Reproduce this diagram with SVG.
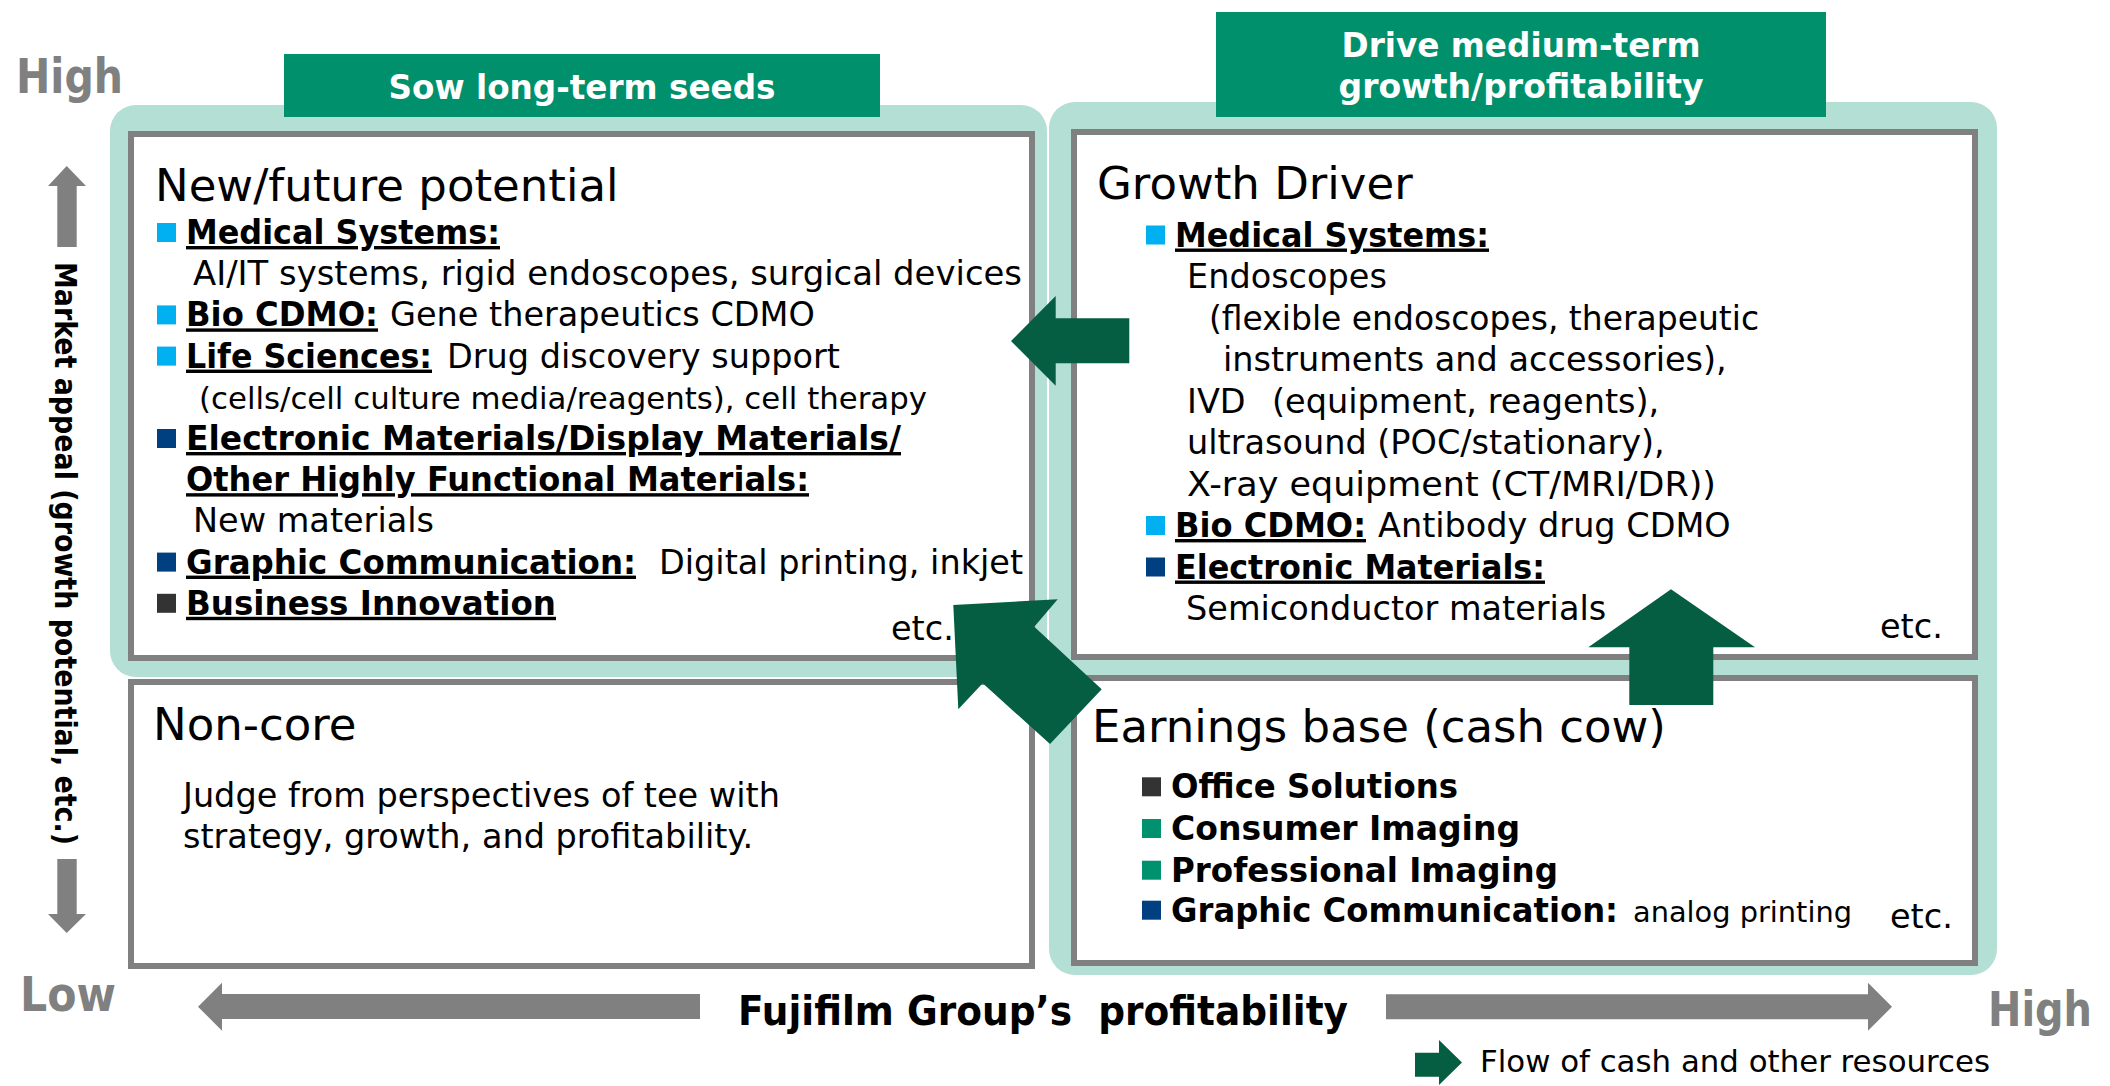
<svg xmlns="http://www.w3.org/2000/svg" width="2110" height="1086" viewBox="0 0 2110 1086">
<style>
text{font-family:"DejaVu Sans",Verdana,sans-serif;fill:#000}
.r{font-size:33.5px}
.t{font-size:45px}
.b{font-size:34px;font-weight:bold}
.u{text-decoration:underline}
.hd{font-size:33px;font-weight:bold;fill:#fff}
.ax{font-weight:bold;fill:#808080;font-size:48px}
.teal{fill:#b3dfd4}
.box{fill:#fff;stroke:#808080;stroke-width:6}
.hdr{fill:#00906c}
.arr{fill:#055e42}
.gar{fill:#808080}
.lb{fill:#00b0f0}.db{fill:#003f80}.dg{fill:#333}.gr{fill:#00916e}
</style>
<rect width="2110" height="1086" fill="#fff"/>
<g id="bg">
<rect class="teal" x="110" y="105" width="937" height="572" rx="26"/>
<rect class="teal" x="1049" y="102" width="948" height="873" rx="26"/>
</g>
<g id="header-sow">
<rect class="hdr" x="284" y="54" width="596" height="63"/>
<text class="hd" x="582" y="99" text-anchor="middle" textLength="387" lengthAdjust="spacingAndGlyphs">Sow long-term seeds</text>
</g>
<g id="header-drive">
<rect class="hdr" x="1216" y="12" width="610" height="105"/>
<text class="hd" x="1521" y="56.5" text-anchor="middle" textLength="359" lengthAdjust="spacingAndGlyphs">Drive medium-term</text>
<text class="hd" x="1521" y="97.6" text-anchor="middle" textLength="365" lengthAdjust="spacingAndGlyphs">growth/profitability</text>
</g>
<g id="box-new-future">
<rect class="box" x="131" y="134" width="901" height="524"/>
<text class="t" x="155" y="201">New/future potential</text>
<rect class="lb" x="157" y="223" width="19" height="19"/>
<text class="b u" x="186" y="244" textLength="314" lengthAdjust="spacingAndGlyphs">Medical Systems:</text>
<text class="r" x="193" y="285.2" textLength="829" lengthAdjust="spacingAndGlyphs">AI/IT systems, rigid endoscopes, surgical devices</text>
<rect class="lb" x="157" y="305.4" width="19" height="19"/>
<text class="b u" x="186" y="326.4" textLength="192" lengthAdjust="spacingAndGlyphs">Bio CDMO:</text>
<text class="r" x="390" y="326.4">Gene therapeutics CDMO</text>
<rect class="lb" x="157" y="346.6" width="19" height="19"/>
<text class="b u" x="186" y="367.6" textLength="246" lengthAdjust="spacingAndGlyphs">Life Sciences:</text>
<text class="r" x="447" y="367.6">Drug discovery support</text>
<text x="199" y="408.8" font-size="31" textLength="728" lengthAdjust="spacingAndGlyphs">(cells/cell culture media/reagents), cell therapy</text>
<rect class="db" x="157" y="429" width="19" height="19"/>
<text class="b u" x="186" y="450" textLength="715" lengthAdjust="spacingAndGlyphs">Electronic Materials/Display Materials/</text>
<text class="b u" x="186" y="491.2" textLength="623" lengthAdjust="spacingAndGlyphs">Other Highly Functional Materials:</text>
<text class="r" x="193" y="532.4">New materials</text>
<rect class="db" x="157" y="552.6" width="19" height="19"/>
<text class="b u" x="186" y="573.6" textLength="450" lengthAdjust="spacingAndGlyphs">Graphic Communication:</text>
<text class="r" x="659" y="573.6">Digital printing, inkjet</text>
<rect class="dg" x="157" y="593.8" width="19" height="19"/>
<text class="b u" x="186" y="614.8" textLength="370" lengthAdjust="spacingAndGlyphs">Business Innovation</text>
<text class="r" x="891" y="640">etc.</text>
</g>
<g id="box-growth-driver">
<rect class="box" x="1074" y="132" width="901" height="525"/>
<text class="t" x="1097" y="199.3">Growth Driver</text>
<rect class="lb" x="1146" y="225.5" width="19" height="19"/>
<text class="b u" x="1175" y="246.5" textLength="314" lengthAdjust="spacingAndGlyphs">Medical Systems:</text>
<text class="r" x="1187" y="288">Endoscopes</text>
<text class="r" x="1209" y="329.5" textLength="550" lengthAdjust="spacingAndGlyphs">(flexible endoscopes, therapeutic</text>
<text class="r" x="1223" y="371">instruments and accessories),</text>
<text class="r" x="1187" y="412.5">IVD</text>
<text class="r" x="1272" y="412.5">(equipment, reagents),</text>
<text class="r" x="1187" y="454">ultrasound (POC/stationary),</text>
<text class="r" x="1187" y="495.5" textLength="529" lengthAdjust="spacingAndGlyphs">X-ray equipment (CT/MRI/DR))</text>
<rect class="lb" x="1146" y="516" width="19" height="19"/>
<text class="b u" x="1175" y="537" textLength="191" lengthAdjust="spacingAndGlyphs">Bio CDMO:</text>
<text class="r" x="1378" y="537">Antibody drug CDMO</text>
<rect class="db" x="1146" y="557.5" width="19" height="19"/>
<text class="b u" x="1175" y="578.5" textLength="370" lengthAdjust="spacingAndGlyphs">Electronic Materials:</text>
<text class="r" x="1186" y="620">Semiconductor materials</text>
<text class="r" x="1880" y="638">etc.</text>
</g>
<g id="box-non-core">
<rect class="box" x="131" y="682" width="901" height="284"/>
<text class="t" x="153" y="740">Non-core</text>
<text class="r" x="183" y="806.7">Judge from perspectives of tee with</text>
<text class="r" x="183" y="848.3">strategy, growth, and profitability.</text>
</g>
<g id="box-earnings-base">
<rect class="box" x="1074" y="678" width="901" height="285"/>
<text class="t" x="1092" y="741.7">Earnings base (cash cow)</text>
<rect class="dg" x="1142" y="777.3" width="19" height="19"/>
<text class="b" x="1171" y="798.3" textLength="287" lengthAdjust="spacingAndGlyphs">Office Solutions</text>
<rect class="gr" x="1142" y="819" width="19" height="19"/>
<text class="b" x="1171" y="840" textLength="349" lengthAdjust="spacingAndGlyphs">Consumer Imaging</text>
<rect class="gr" x="1142" y="860.7" width="19" height="19"/>
<text class="b" x="1171" y="881.7" textLength="387" lengthAdjust="spacingAndGlyphs">Professional Imaging</text>
<rect class="db" x="1142" y="900.7" width="19" height="19"/>
<text class="b" x="1171" y="921.7" textLength="447" lengthAdjust="spacingAndGlyphs">Graphic Communication:</text>
<text x="1633" y="921.7" font-size="28.6" textLength="219" lengthAdjust="spacingAndGlyphs">analog printing</text>
<text class="r" x="1890" y="928">etc.</text>
</g>
<g id="connectors">
<polygon class="arr" points="1011,341 1055.7,296 1055.7,318.3 1129.3,318.3 1129.3,363.3 1055.7,363.3 1055.7,385.7"/>
<polygon class="arr" points="953.3,605 1057.7,599.3 1034.3,626.7 1101.7,689.3 1050,744 982.7,683.3 958.3,709.3"/>
<polygon class="arr" points="1671,589.3 1755,647.3 1713.3,647.3 1713.3,705 1629.3,705 1629.3,647.3 1588.3,647.3"/>
</g>
<g id="axis-y">
<text class="ax" x="16" y="92.7" textLength="107" lengthAdjust="spacingAndGlyphs">High</text>
<polygon class="gar" points="66.7,166 86,186 76.7,186 76.7,247 57.3,247 57.3,186 48,186"/>
<text transform="translate(55,262) rotate(90)" font-size="31" font-weight="bold" textLength="583" lengthAdjust="spacingAndGlyphs">Market appeal (growth potential, etc.)</text>
<polygon class="gar" points="57.3,859 76.7,859 76.7,914 86,914 66.7,933 48,914 57.3,914"/>
<text class="ax" x="20" y="1010.7" textLength="96" lengthAdjust="spacingAndGlyphs">Low</text>
</g>
<g id="axis-x">
<polygon class="gar" points="198,1006.7 222,982.7 222,994 700,994 700,1019 222,1019 222,1030.7"/>
<text x="738" y="1025" font-size="41" font-weight="bold" textLength="610" lengthAdjust="spacingAndGlyphs" xml:space="preserve">Fujifilm Group’s  profitability</text>
<polygon class="gar" points="1386,994.3 1868,994.3 1868,982.7 1892,1006.8 1868,1030.7 1868,1019.3 1386,1019.3"/>
<text class="ax" x="1988" y="1026" textLength="104" lengthAdjust="spacingAndGlyphs">High</text>
</g>
<g id="legend">
<polygon class="arr" points="1415,1052.7 1439,1052.7 1439,1040 1462,1062.5 1439,1085 1439,1076.7 1415,1076.7"/>
<text x="1480" y="1071.7" font-size="30" textLength="510" lengthAdjust="spacingAndGlyphs">Flow of cash and other resources</text>
</g>
</svg>
